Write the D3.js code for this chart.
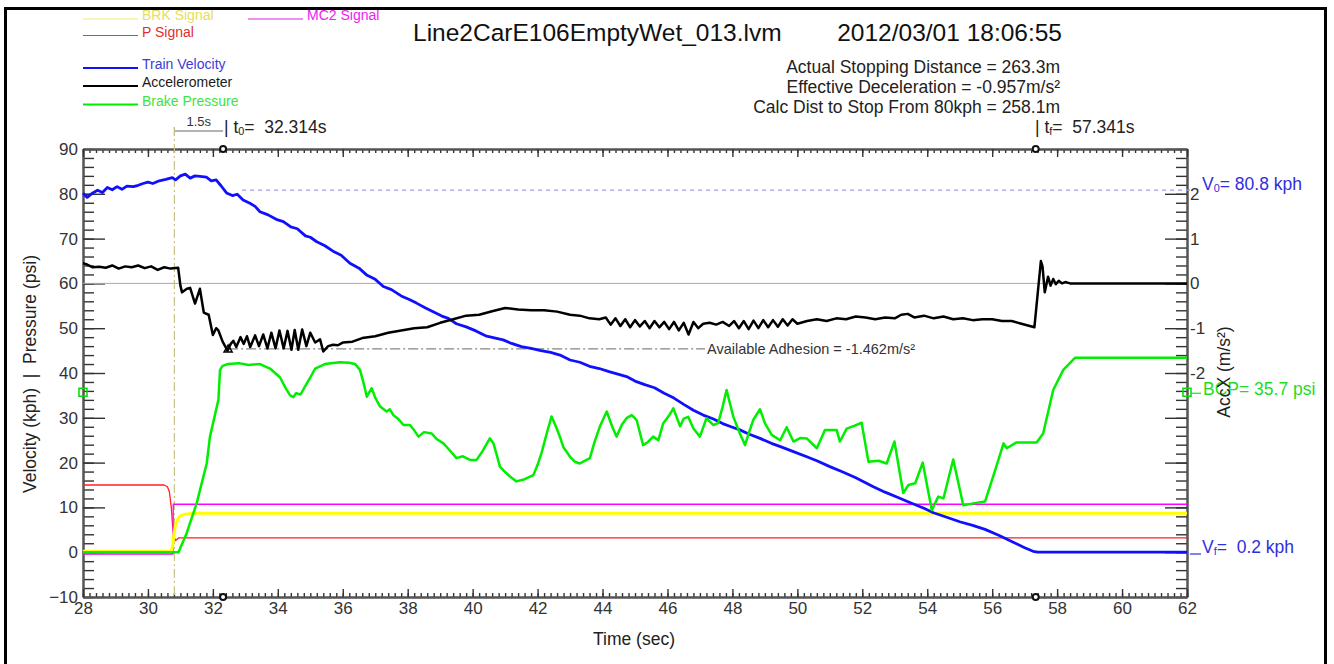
<!DOCTYPE html>
<html>
<head>
<meta charset="utf-8">
<script src="https://cdn.jsdelivr.net/npm/d3@7"></script>
<style>
  body { margin: 0; background: #fff; }
  text { font-family: "Liberation Sans", Arial, sans-serif; }
</style>
</head>
<body>
<svg id="chart" width="1334" height="664"></svg>
<script>
// ---- data: [time (s), value] ----
const xTicks = [28, 30, 32, 34, 36, 38, 40, 42, 44, 46, 48, 50, 52, 54, 56, 58, 60, 62];
const leftTicks = [-10, 0, 10, 20, 30, 40, 50, 60, 70, 80, 90];
const accTicks = [-2, -1, 0, 1, 2];

const pSignal = [[28, 15], [30.5, 15], [30.6, 14.6], [30.66, 13.5], [30.72, 10], [30.76, 6], [30.8, 3.5],
  [30.85, 2.6], [30.9, 2.9], [30.95, 3.2], [62, 3.2]];
const mc2Signal = [[28, -0.4], [30.77, -0.4], [30.78, 10.7], [62, 10.7]];
const brkSignal = [[28, 0.2], [30.72, 0.2], [30.76, 1.5], [30.8, 4], [30.85, 6], [30.92, 7.4], [31, 8.1],
  [31.15, 8.5], [31.4, 8.7], [62, 8.7]];

const trainVelocity = [[28, 80.1], [28.13, 79.2], [28.3, 80.2], [28.45, 80.8], [28.6, 80.3], [28.75, 81.4],
  [28.9, 80.9], [29.05, 81.6], [29.2, 81], [29.35, 81.7], [29.55, 81.6], [29.7, 81.9], [29.85, 82.3],
  [30, 82.6], [30.15, 82.3], [30.35, 82.9], [30.55, 83.2], [30.75, 83.6], [30.85, 83.1], [31, 84],
  [31.15, 84.4], [31.3, 83.5], [31.45, 84], [31.6, 83.9], [31.8, 83.7], [31.95, 82.9], [32.1, 83.1],
  [32.25, 81.8], [32.42, 80.2], [32.6, 79.6], [32.75, 79.9], [32.93, 78.6], [33.14, 77.9], [33.3, 77.2],
  [33.45, 76], [33.7, 75.3], [33.95, 74.3], [34.17, 73.8], [34.4, 72.6], [34.6, 72.2], [34.85, 70.6],
  [35, 70.3], [35.2, 69.3], [35.45, 68.4], [35.7, 67.2], [35.95, 66.3], [36.22, 64.5], [36.5, 63.4],
  [36.75, 61.8], [37, 60.9], [37.25, 59.3], [37.5, 58.6], [37.8, 57.2], [38.05, 56.4], [38.27, 55.6],
  [38.55, 54.5], [38.8, 53.6], [39.05, 52.7], [39.25, 52.2], [39.5, 51], [39.8, 50.3], [40.1, 49.4],
  [40.4, 48.3], [40.7, 47.8], [40.94, 47.4], [41.2, 46.6], [41.5, 45.9], [41.8, 45.5], [42.1, 45],
  [42.4, 44.6], [42.69, 44], [43, 42.9], [43.3, 42.4], [43.6, 41.5], [43.9, 41], [44.2, 40.3],
  [44.5, 39.7], [44.74, 39.2], [45, 38.2], [45.3, 37.4], [45.6, 36.7], [45.9, 35.5], [46.2, 34.4],
  [46.5, 33], [46.8, 31.7], [47.1, 30.6], [47.4, 29.8], [47.7, 28.7], [48, 27.9], [48.23, 27.3],
  [48.5, 26.4], [48.85, 25.4], [49.2, 24.3], [49.5, 23.5], [49.9, 22.4], [50.29, 21.3], [50.6, 20.4],
  [51, 19.1], [51.4, 17.9], [51.8, 16.6], [52.34, 14.6], [52.7, 13.4], [53.1, 12.2], [53.5, 11],
  [53.9, 9.8], [54.19, 8.8], [54.6, 7.8], [55, 6.8], [55.4, 6], [55.78, 5.1], [56.2, 3.8], [56.6, 2.4],
  [57, 1], [57.26, 0.2], [57.4, 0], [62, 0]];

// accelerometer in m/s^2 (right axis)
const accelerometer = [[28, 0.45], [28.1, 0.43], [28.3, 0.36], [28.5, 0.37], [28.7, 0.35], [28.9, 0.4],
  [29.1, 0.33], [29.3, 0.38], [29.5, 0.36], [29.7, 0.4], [29.9, 0.34], [30.1, 0.38], [30.3, 0.3],
  [30.5, 0.36], [30.7, 0.33], [30.93, 0.35], [31, -0.05], [31.05, -0.2], [31.2, -0.12], [31.3, -0.1],
  [31.45, -0.45], [31.6, -0.12], [31.72, -0.65], [31.87, -0.7], [32, -1.15], [32.1, -1], [32.17, -1.05],
  [32.3, -1.3], [32.45, -1.5], [32.55, -1.35], [32.63, -1.28], [32.72, -1.42], [32.85, -1.2],
  [32.95, -1.35], [33.05, -1.18], [33.15, -1.42], [33.3, -1.16], [33.42, -1.4], [33.55, -1.14],
  [33.68, -1.45], [33.8, -1.1], [33.93, -1.45], [34.05, -1.05], [34.18, -1.45], [34.3, -1.06],
  [34.42, -1.48], [34.52, -1.04], [34.63, -1.48], [34.75, -1.03], [34.88, -1.4], [35, -1.1],
  [35.15, -1.32], [35.3, -1.25], [35.4, -1.52], [35.55, -1.4], [35.7, -1.37], [35.85, -1.38],
  [36, -1.32], [36.3, -1.3], [36.6, -1.22], [37, -1.18], [37.4, -1.1], [37.8, -1.05], [38.2, -1],
  [38.6, -0.98], [39, -0.88], [39.4, -0.8], [39.8, -0.72], [40.2, -0.7], [40.6, -0.62], [41, -0.55],
  [41.4, -0.58], [41.8, -0.6], [42.2, -0.6], [42.6, -0.63], [43, -0.7], [43.3, -0.72], [43.6, -0.78],
  [43.9, -0.8], [44.1, -0.76], [44.25, -0.92], [44.4, -0.78], [44.55, -0.95], [44.7, -0.8],
  [44.85, -0.98], [45, -0.82], [45.15, -0.96], [45.3, -0.84], [45.45, -1], [45.6, -0.84],
  [45.75, -0.98], [45.9, -0.86], [46.05, -1.02], [46.2, -0.86], [46.35, -1.05], [46.5, -0.88],
  [46.65, -1.14], [46.8, -0.86], [46.95, -1], [47.1, -0.9], [47.3, -0.88], [47.5, -0.92], [47.7, -0.86],
  [47.9, -0.95], [48.05, -0.84], [48.2, -1], [48.35, -0.84], [48.5, -1.02], [48.65, -0.83], [48.8, -1],
  [48.95, -0.82], [49.1, -0.98], [49.25, -0.82], [49.4, -0.97], [49.55, -0.8], [49.7, -0.94],
  [49.85, -0.8], [50, -0.9], [50.3, -0.84], [50.6, -0.8], [50.9, -0.84], [51.2, -0.78], [51.5, -0.8],
  [51.8, -0.74], [52.1, -0.76], [52.4, -0.8], [52.7, -0.76], [53, -0.78], [53.2, -0.7], [53.4, -0.68],
  [53.6, -0.76], [53.9, -0.72], [54.2, -0.78], [54.5, -0.74], [54.8, -0.8], [55.1, -0.78], [55.4, -0.82],
  [55.7, -0.8], [56, -0.8], [56.3, -0.84], [56.6, -0.84], [56.9, -0.9], [57.1, -0.94], [57.3, -0.98],
  [57.5, 0.5], [57.55, 0.38], [57.62, -0.2], [57.72, 0.15], [57.8, -0.05], [57.88, 0.1], [57.96, -0.02],
  [58.05, 0.06], [58.15, 0], [58.25, 0.03], [58.4, 0], [62, 0]];

const brakePressure = [[28, 0], [30.94, 0], [31.19, 4.2], [31.5, 10.9], [31.81, 19.8], [31.91, 25.8],
  [32.17, 34], [32.22, 40.7], [32.3, 41.6], [32.47, 42], [32.8, 42.2], [33.1, 41.8], [33.45, 42],
  [33.76, 41], [34.07, 39], [34.25, 36.5], [34.38, 35], [34.48, 34.6], [34.56, 35.5], [34.7, 35.2],
  [34.84, 37], [35, 39], [35.15, 41], [35.45, 42], [35.9, 42.4], [36.2, 42.3], [36.38, 42], [36.53, 40.7],
  [36.65, 37.5], [36.74, 34.7], [36.89, 36.6], [37, 34.5], [37.15, 32.5], [37.35, 31.4], [37.45, 31.9],
  [37.56, 30.6], [37.7, 29.8], [37.87, 28.4], [38.07, 28.4], [38.2, 27.2], [38.33, 25.8], [38.5, 26.8],
  [38.74, 26.5], [38.9, 25.2], [39.1, 24.3], [39.3, 22.7], [39.5, 21], [39.7, 21.4], [39.92, 20.6],
  [40.12, 20.6], [40.3, 22.5], [40.53, 25.4], [40.64, 24.3], [40.75, 21.5], [40.84, 19.1], [41, 17.9],
  [41.15, 16.9], [41.35, 15.8], [41.6, 16.3], [41.87, 17.2], [42, 19.5], [42.12, 22.1], [42.3, 27],
  [42.43, 30.3], [42.59, 27.6], [42.7, 25.5], [42.79, 23.5], [43, 21.3], [43.15, 20.2], [43.3, 19.8],
  [43.45, 20.4], [43.61, 21], [43.75, 24.5], [43.92, 28.1], [44.13, 31.4], [44.3, 28], [44.43, 25.8],
  [44.6, 28.5], [44.75, 30], [44.9, 30.6], [45.05, 29.5], [45.25, 23.9], [45.4, 24.6], [45.56, 25.8],
  [45.72, 25], [45.87, 28.8], [46.05, 30.5], [46.18, 32.1], [46.39, 28.1], [46.5, 29.8], [46.64, 30.2],
  [46.8, 27.6], [47, 25.8], [47.2, 29.9], [47.41, 28.4], [47.56, 28.8], [47.7, 32.5], [47.82, 36.2],
  [48.03, 30.2], [48.23, 26.5], [48.39, 23.9], [48.5, 26.5], [48.64, 29.5], [48.85, 31.9], [49, 28.8],
  [49.21, 26.2], [49.47, 25], [49.67, 27.9], [49.88, 24.7], [50.1, 25.5], [50.29, 25.4], [50.6, 23.2],
  [50.85, 27.3], [51.21, 27.3], [51.31, 24.7], [51.52, 27.6], [51.75, 28.2], [51.98, 28.9], [52.19, 20.2],
  [52.5, 20.4], [52.75, 19.8], [52.99, 24.7], [53.26, 13.2], [53.42, 15], [53.63, 15.4], [53.86, 20],
  [54.14, 9.4], [54.34, 12.4], [54.5, 12], [54.8, 20.7], [55.11, 10.5], [55.42, 10.9], [55.78, 11.3],
  [55.88, 13.5], [56.1, 18.5], [56.35, 24.3], [56.45, 23.2], [56.75, 24.5], [57.37, 24.5], [57.57, 26.5],
  [57.88, 36.2], [58.19, 40.7], [58.55, 43.4], [62, 43.4]];

const t0 = 32.314, tf = 57.341, tBrk = 30.814;
const v0 = 80.8, vf = 0.2, bcp = 35.7, adhesion = -1.462;

// ---- scales ----
const svg = d3.select('#chart');
const x = d3.scaleLinear().domain([28, 62]).range([83, 1187]);
const y = d3.scaleLinear().domain([-10, 90]).range([597, 149]);
const yAcc = d3.scaleLinear().domain([-7, 3]).range([597, 149]);

const font = '"Liberation Sans", Arial, sans-serif';
const sp = '\u00a0'; // non-collapsing space

// ---- axes ----
function styleAxis(g) {
  g.attr('font-family', font).attr('font-size', 17);
  g.select('.domain').attr('stroke', '#555').attr('stroke-width', 2);
  g.selectAll('.tick line').attr('stroke', '#333').attr('stroke-width', 1.4);
  g.selectAll('.tick text').attr('fill', '#333');
}

svg.append('g').attr('transform', 'translate(83,0)')
  .call(d3.axisLeft(y).tickValues(d3.range(-10, 91, 2)).tickSize(-11).tickSizeOuter(0).tickFormat(''))
  .call(styleAxis);
svg.append('g').attr('transform', 'translate(83,0)')
  .call(d3.axisLeft(y).tickValues(leftTicks).tickSize(-22).tickSizeOuter(0).tickPadding(5))
  .call(styleAxis);

svg.append('g').attr('transform', 'translate(1187,0)')
  .call(d3.axisRight(yAcc).tickValues(d3.range(-35, 16).map(d => d / 5)).tickSize(-11).tickSizeOuter(0).tickFormat(''))
  .call(styleAxis);
svg.append('g').attr('transform', 'translate(1187,0)')
  .call(d3.axisRight(yAcc).tickValues(d3.range(-7, 4)).tickSize(-22).tickSizeOuter(0).tickPadding(3)
    .tickFormat(d => accTicks.includes(d) ? d : ''))
  .call(styleAxis);

svg.append('g').attr('transform', 'translate(0,597)')
  .call(d3.axisBottom(x).tickValues(d3.range(140, 311).map(d => d / 5)).tickSize(-4).tickSizeOuter(0).tickFormat(''))
  .call(styleAxis);
svg.append('g').attr('transform', 'translate(0,597)')
  .call(d3.axisBottom(x).tickValues(xTicks).tickSize(-8).tickSizeOuter(0).tickPadding(5))
  .call(styleAxis);

svg.append('g').attr('transform', 'translate(0,149)')
  .call(d3.axisTop(x).tickValues(d3.range(140, 311).map(d => d / 5)).tickSize(-4).tickSizeOuter(0).tickFormat(''))
  .call(styleAxis);
svg.append('g').attr('transform', 'translate(0,149)')
  .call(d3.axisTop(x).tickValues(xTicks).tickSize(-8).tickSizeOuter(0).tickFormat(''))
  .call(styleAxis);

// ---- reference lines ----
svg.append('line').attr('x1', 83).attr('x2', 1187).attr('y1', yAcc(0)).attr('y2', yAcc(0))
  .attr('stroke', '#aaa').attr('stroke-width', 1);

svg.append('line').attr('x1', x(tBrk)).attr('x2', x(tBrk)).attr('y1', 127).attr('y2', 597)
  .attr('stroke', '#c8c48a').attr('stroke-width', 1.2).attr('stroke-dasharray', '9,3,2,3');

svg.append('line').attr('x1', x(32.9)).attr('x2', 1192).attr('y1', y(v0)).attr('y2', y(v0))
  .attr('stroke', '#9c9ce6').attr('stroke-width', 1.2).attr('stroke-dasharray', '4,4');

svg.append('line').attr('x1', x(32.47)).attr('x2', 705).attr('y1', yAcc(adhesion)).attr('y2', yAcc(adhesion))
  .attr('stroke', '#666').attr('stroke-width', 1).attr('stroke-dasharray', '10,3,2,3');

// ---- series ----
const line = d3.line().x(d => x(d[0])).y(d => y(d[1]));
const accLine = d3.line().x(d => x(d[0])).y(d => yAcc(d[1]));

const series = [
  { data: pSignal, color: '#ff2020', width: 1.3 },
  { data: mc2Signal, color: '#ff00ff', width: 1.3 },
  { data: brkSignal, color: '#ffff00', width: 3 },
  { data: trainVelocity, color: '#1010ff', width: 2.8 },
  { data: brakePressure, color: '#00ee00', width: 2.5 }
];
series.forEach(s => {
  svg.append('path').datum(s.data).attr('d', line)
    .attr('fill', 'none').attr('stroke', s.color).attr('stroke-width', s.width)
    .attr('stroke-linejoin', 'round');
});
svg.append('path').datum(accelerometer).attr('d', accLine)
  .attr('fill', 'none').attr('stroke', '#000').attr('stroke-width', 2.5).attr('stroke-linejoin', 'round');

// ---- markers ----
[[x(t0), 149], [x(t0), 597], [x(tf), 149], [x(tf), 597]].forEach(p => {
  svg.append('circle').attr('cx', p[0]).attr('cy', p[1]).attr('r', 3)
    .attr('fill', '#fff').attr('stroke', '#111').attr('stroke-width', 2);
});
[83, 1187].forEach(px => {
  svg.append('rect').attr('x', px - 4).attr('y', y(bcp) - 4).attr('width', 8).attr('height', 8)
    .attr('fill', 'none').attr('stroke', '#00dd00').attr('stroke-width', 1.5);
});
const ta = x(32.47), tb = yAcc(adhesion);
svg.append('path').attr('d', `M${ta - 4},${tb + 3}L${ta},${tb - 4}L${ta + 4},${tb + 3}Z`)
  .attr('fill', 'none').attr('stroke', '#000').attr('stroke-width', 1.5);

// ---- annotations ----
const ann = svg.append('g').attr('font-family', font);

ann.append('text').attr('x', 707).attr('y', yAcc(adhesion) + 5).attr('font-size', 14.5).attr('fill', '#333')
  .text('Available Adhesion = -1.462m/s²');

// 1.5s bracket
ann.append('line').attr('x1', x(tBrk)).attr('x2', x(t0)).attr('y1', 131).attr('y2', 131)
  .attr('stroke', '#666').attr('stroke-width', 1);
ann.append('line').attr('x1', x(tBrk)).attr('x2', x(tBrk)).attr('y1', 127).attr('y2', 135)
  .attr('stroke', '#c8c48a').attr('stroke-width', 1.2);
ann.append('text').attr('x', (x(tBrk) + x(t0)) / 2).attr('y', 126).attr('text-anchor', 'middle')
  .attr('font-size', 13).attr('fill', '#333').text('1.5s');

function subText(px, py, pre, sub, post, color, size) {
  const t = ann.append('text').attr('x', px).attr('y', py).attr('font-size', size).attr('fill', color);
  t.append('tspan').text(pre);
  t.append('tspan').attr('font-size', size * 0.62).attr('dy', 2).text(sub);
  t.append('tspan').attr('dy', -2).text(post);
  return t;
}
subText(224, 133, '|' + sp + 't', '0', '=' + sp + sp + '32.314s', '#222', 17.5);
subText(1035, 133, '|' + sp + 't', 'f', '=' + sp + sp + '57.341s', '#222', 17.5);

// right-hand value labels
ann.append('line').attr('x1', 1190).attr('x2', 1201).attr('y1', y(bcp) + 1).attr('y2', y(bcp) + 1)
  .attr('stroke', '#22dd22').attr('stroke-width', 1.2);
subText(1202, y(v0), 'V', '0', '=' + sp + '80.8 kph', '#2f2fdd', 17.5);
subText(1202, 553, 'V', 'f', '=' + sp + sp + '0.2 kph', '#2f2fdd', 17.5);
ann.append('line').attr('x1', 1190).attr('x2', 1201).attr('y1', 554).attr('y2', 554)
  .attr('stroke', '#2f2fdd').attr('stroke-width', 1.2);
ann.append('text').attr('x', 1203).attr('y', y(bcp) + 3).attr('font-size', 17.5).attr('fill', '#22dd22')
  .text('BCP= 35.7 psi');

// axis titles
ann.append('text').attr('transform', 'translate(36,374) rotate(-90)').attr('text-anchor', 'middle')
  .attr('font-size', 17.5).attr('fill', '#222')
  .text('Velocity (kph)' + sp + sp + '|' + sp + sp + 'Pressure (psi)');
ann.append('text').attr('transform', 'translate(1230,372) rotate(-90)').attr('text-anchor', 'middle')
  .attr('font-size', 17.5).attr('fill', '#222').text('AccX (m/s²)');
ann.append('text').attr('x', 634).attr('y', 645).attr('text-anchor', 'middle')
  .attr('font-size', 17.5).attr('fill', '#222').text('Time (sec)');

// title + stats
ann.append('text').attr('x', 413).attr('y', 41).attr('font-size', 24.5).attr('fill', '#111')
  .text('Line2CarE106EmptyWet_013.lvm');
ann.append('text').attr('x', 1062).attr('y', 41).attr('text-anchor', 'end').attr('font-size', 24.5).attr('fill', '#111')
  .text('2012/03/01 18:06:55');
const stats = ['Actual Stopping Distance = 263.3m', 'Effective Deceleration = -0.957m/s²',
  'Calc Dist to Stop From 80kph = 258.1m'];
stats.forEach((s, i) => {
  ann.append('text').attr('x', 1060).attr('y', 73 + i * 19.8).attr('text-anchor', 'end')
    .attr('font-size', 17.5).attr('fill', '#222').text(s);
});

// ---- legend ----
const legend = [
  { name: 'BRK Signal', line: '#f0ee70', text: '#e6e05a', x: 83, y: 19, w: 1.2 },
  { name: 'MC2 Signal', line: '#dd22dd', text: '#ee22ee', x: 248, y: 19, w: 1.2 },
  { name: 'P Signal', line: '#ff3030', text: '#e03030', x: 83, y: 35.5, w: 1.2 },
  { name: 'Train Velocity', line: '#1010ff', text: '#3c3cd8', x: 83, y: 68, w: 2.2 },
  { name: 'Accelerometer', line: '#000', text: '#1a1a1a', x: 83, y: 86, w: 2.2 },
  { name: 'Brake Pressure', line: '#00ee00', text: '#3ce63c', x: 83, y: 104.5, w: 2.2 }
];
legend.forEach(d => {
  svg.append('line').attr('x1', d.x).attr('x2', d.x + 55).attr('y1', d.y).attr('y2', d.y)
    .attr('stroke', d.line).attr('stroke-width', d.w);
  svg.append('text').attr('x', d.x + 59).attr('y', d.y + 1).attr('font-family', font)
    .attr('font-size', 14).attr('fill', d.text).text(d.name);
});

// ---- outer frame ----
svg.append('rect').attr('x', 0).attr('y', 0).attr('width', 1334).attr('height', 7).attr('fill', '#fff');
svg.append('path').attr('d', 'M5.5,670V8.5H1325.5V670').attr('fill', 'none')
  .attr('stroke', '#000').attr('stroke-width', 3);
</script>
</body>
</html>
